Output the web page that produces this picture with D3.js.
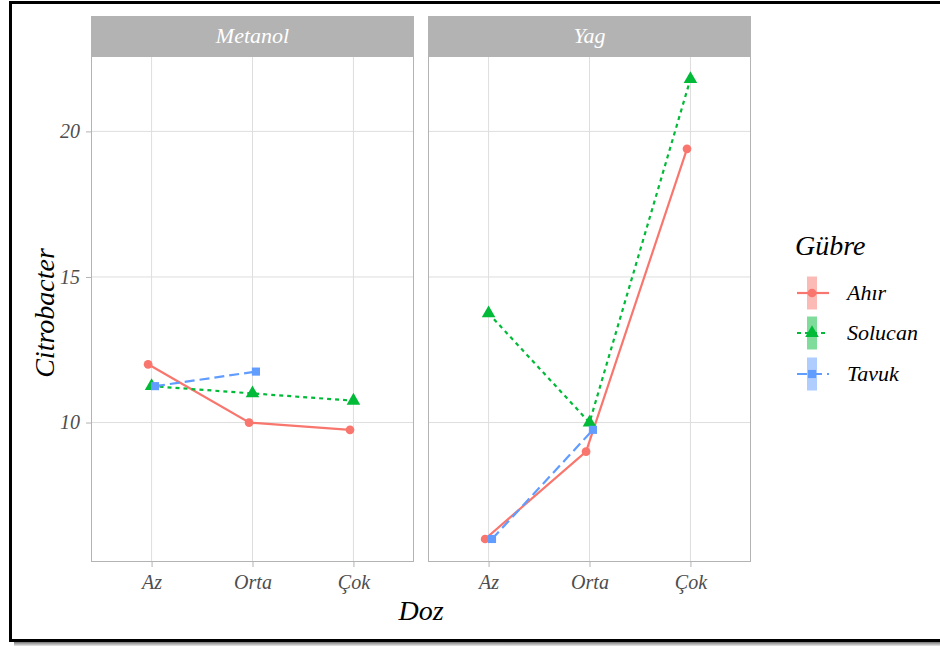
<!DOCTYPE html>
<html>
<head>
<meta charset="utf-8">
<script src="https://cdn.jsdelivr.net/npm/d3@7"></script>
<style>
  html, body { margin: 0; padding: 0; background: #fff; }
  svg { display: block; }
  text { font-family: "Liberation Serif", "Times New Roman", serif; font-style: italic; }
</style>
</head>
<body>
<svg id="chart" width="940" height="646"></svg>
<script>
// Facets, dose levels and fertiliser groups
const facets = ["Metanol", "Yag"];
const doses = ["Az", "Orta", "Çok"];
const groups = ["Ahır", "Solucan", "Tavuk"];

// Citrobacter means per facet, one array per group (null = no observation)
const metanolAhir    = [12.0, 10.0, 9.75];
const metanolSolucan = [11.25, 11.0, 10.75];
const metanolTavuk   = [11.25, 11.75, null];
const yagAhir        = [6.0, 9.0, 19.4];
const yagSolucan     = [13.75, 10.0, 21.8];
const yagTavuk       = [6.0, 9.75, null];

const yTicks = [10, 15, 20];

const seriesByFacet = {
  Metanol: [metanolAhir, metanolSolucan, metanolTavuk],
  Yag: [yagAhir, yagSolucan, yagTavuk]
};

const colors = ["#F8766D", "#00BA38", "#619CFF"];
const dashes = [null, "4,4", "10,5"];
const shapes = [d3.symbolCircle, d3.symbolTriangle, d3.symbolSquare];
const shapeSizes = [60, 80, 66];

const svg = d3.select("#chart");

// outer frame with a soft drop shadow along the bottom
const defs = svg.append("defs");
const grad = defs.append("linearGradient").attr("id", "shadow").attr("x1", 0).attr("y1", 0).attr("x2", 0).attr("y2", 1);
grad.append("stop").attr("offset", 0).attr("stop-color", "#777");
grad.append("stop").attr("offset", 1).attr("stop-color", "#e8e8e8");
svg.append("rect").attr("x", 14).attr("y", 642).attr("width", 940).attr("height", 4).attr("fill", "url(#shadow)");
svg.append("rect").attr("x", 10.5).attr("y", 2.5).attr("width", 940).attr("height", 638)
  .attr("fill", "none").attr("stroke", "#000").attr("stroke-width", 3);

// panel geometry
const panelTop = 56, panelBottom = 562, stripTop = 16;
const panels = [{ name: "Metanol", x0: 91, x1: 414 }, { name: "Yag", x0: 428, x1: 751 }];

// y scale with ggplot-style 5% expansion of the data range
const allVals = [].concat(...Object.values(seriesByFacet).flat()).filter(v => v != null);
const yMin = d3.min(allVals), yMax = d3.max(allVals);
const pad = (yMax - yMin) * 0.05;
const y = d3.scaleLinear().domain([yMin - pad, yMax + pad]).range([panelBottom, panelTop]);

panels.forEach((p, pi) => {
  const x = d3.scalePoint().domain(doses).range([p.x0, p.x1]).padding(0.6);
  const dodge = x.step() * 0.034;
  const g = svg.append("g");

  // background and grid
  g.append("rect").attr("x", p.x0).attr("y", panelTop).attr("width", p.x1 - p.x0).attr("height", panelBottom - panelTop).attr("fill", "#fff");
  g.selectAll(".hg").data(yTicks).enter().append("line")
    .attr("x1", p.x0).attr("x2", p.x1).attr("y1", d => y(d)).attr("y2", d => y(d))
    .attr("stroke", "#DEDEDE").attr("stroke-width", 1);
  g.selectAll(".vg").data(doses).enter().append("line")
    .attr("x1", d => x(d)).attr("x2", d => x(d)).attr("y1", panelTop).attr("y2", panelBottom)
    .attr("stroke", "#DEDEDE").attr("stroke-width", 1);

  // series
  seriesByFacet[p.name].forEach((vals, gi) => {
    const pts = vals.map((v, i) => ({ v, d: doses[i] })).filter(o => o.v != null);
    const off = (gi - 1) * dodge;
    const line = d3.line().x(o => x(o.d) + off).y(o => y(o.v));
    g.append("path").datum(pts).attr("d", line).attr("fill", "none")
      .attr("stroke", colors[gi]).attr("stroke-width", 2.2)
      .attr("stroke-dasharray", dashes[gi]);
    g.selectAll(null).data(pts).enter().append("path")
      .attr("d", d3.symbol().type(shapes[gi]).size(shapeSizes[gi]))
      .attr("transform", o => `translate(${x(o.d) + off},${y(o.v)})`)
      .attr("fill", colors[gi]);
  });

  // panel border
  g.append("rect").attr("x", p.x0 + 0.5).attr("y", panelTop + 0.5).attr("width", p.x1 - p.x0 - 1).attr("height", panelBottom - panelTop - 1)
    .attr("fill", "none").attr("stroke", "#B3B3B3").attr("stroke-width", 1);

  // strip
  g.append("rect").attr("x", p.x0).attr("y", stripTop).attr("width", p.x1 - p.x0).attr("height", panelTop - stripTop).attr("fill", "#B3B3B3");
  g.append("text").attr("x", (p.x0 + p.x1) / 2).attr("y", (stripTop + panelTop) / 2 + 7)
    .attr("text-anchor", "middle").attr("font-size", 22).attr("fill", "#fff").text(p.name);

  // x axis
  const xAxis = d3.axisBottom(x).tickSize(5).tickPadding(8);
  const ax = g.append("g").attr("transform", `translate(0,${panelBottom})`).call(xAxis);
  ax.select(".domain").remove();
  ax.selectAll(".tick line").attr("stroke", "#B3B3B3");
  ax.selectAll(".tick text").attr("font-size", 20).attr("fill", "#4D4D4D")
    .attr("font-family", "Liberation Serif").attr("font-style", "italic");

  // y axis on the first panel only
  if (pi === 0) {
    const yAxis = d3.axisLeft(y).tickValues(yTicks).tickSize(5).tickPadding(6);
    const ay = g.append("g").attr("transform", `translate(${p.x0},0)`).call(yAxis);
    ay.select(".domain").remove();
    ay.selectAll(".tick line").attr("stroke", "#B3B3B3");
    ay.selectAll(".tick text").attr("font-size", 20).attr("fill", "#4D4D4D")
      .attr("font-family", "Liberation Serif").attr("font-style", "italic");
  }
});

// axis titles
svg.append("text").attr("x", (panels[0].x0 + panels[1].x1) / 2).attr("y", 620)
  .attr("text-anchor", "middle").attr("font-size", 28).attr("fill", "#000").text("Doz");
svg.append("text").attr("transform", `translate(54,${(panelTop + panelBottom) / 2 + 4}) rotate(-90)`)
  .attr("text-anchor", "middle").attr("font-size", 28).attr("fill", "#000").text("Citrobacter");

// legend
const lg = svg.append("g").attr("transform", "translate(795,0)");
lg.append("text").attr("x", 0).attr("y", 255).attr("font-size", 28).attr("fill", "#000").text("Gübre");
const keyY = [293, 333, 374];
groups.forEach((name, gi) => {
  const cy = keyY[gi];
  lg.append("rect").attr("x", 12).attr("y", cy - 16.5).attr("width", 10).attr("height", 33)
    .attr("fill", colors[gi]).attr("fill-opacity", 0.5);
  lg.append("line").attr("x1", 2).attr("x2", 34).attr("y1", cy).attr("y2", cy)
    .attr("stroke", colors[gi]).attr("stroke-width", 2.2).attr("stroke-dasharray", dashes[gi]);
  lg.append("path").attr("d", d3.symbol().type(shapes[gi]).size(shapeSizes[gi]))
    .attr("transform", `translate(17,${cy})`).attr("fill", colors[gi]);
  lg.append("text").attr("x", 52).attr("y", cy + 7).attr("font-size", 22).attr("fill", "#000").text(name);
});
</script>
</body>
</html>
